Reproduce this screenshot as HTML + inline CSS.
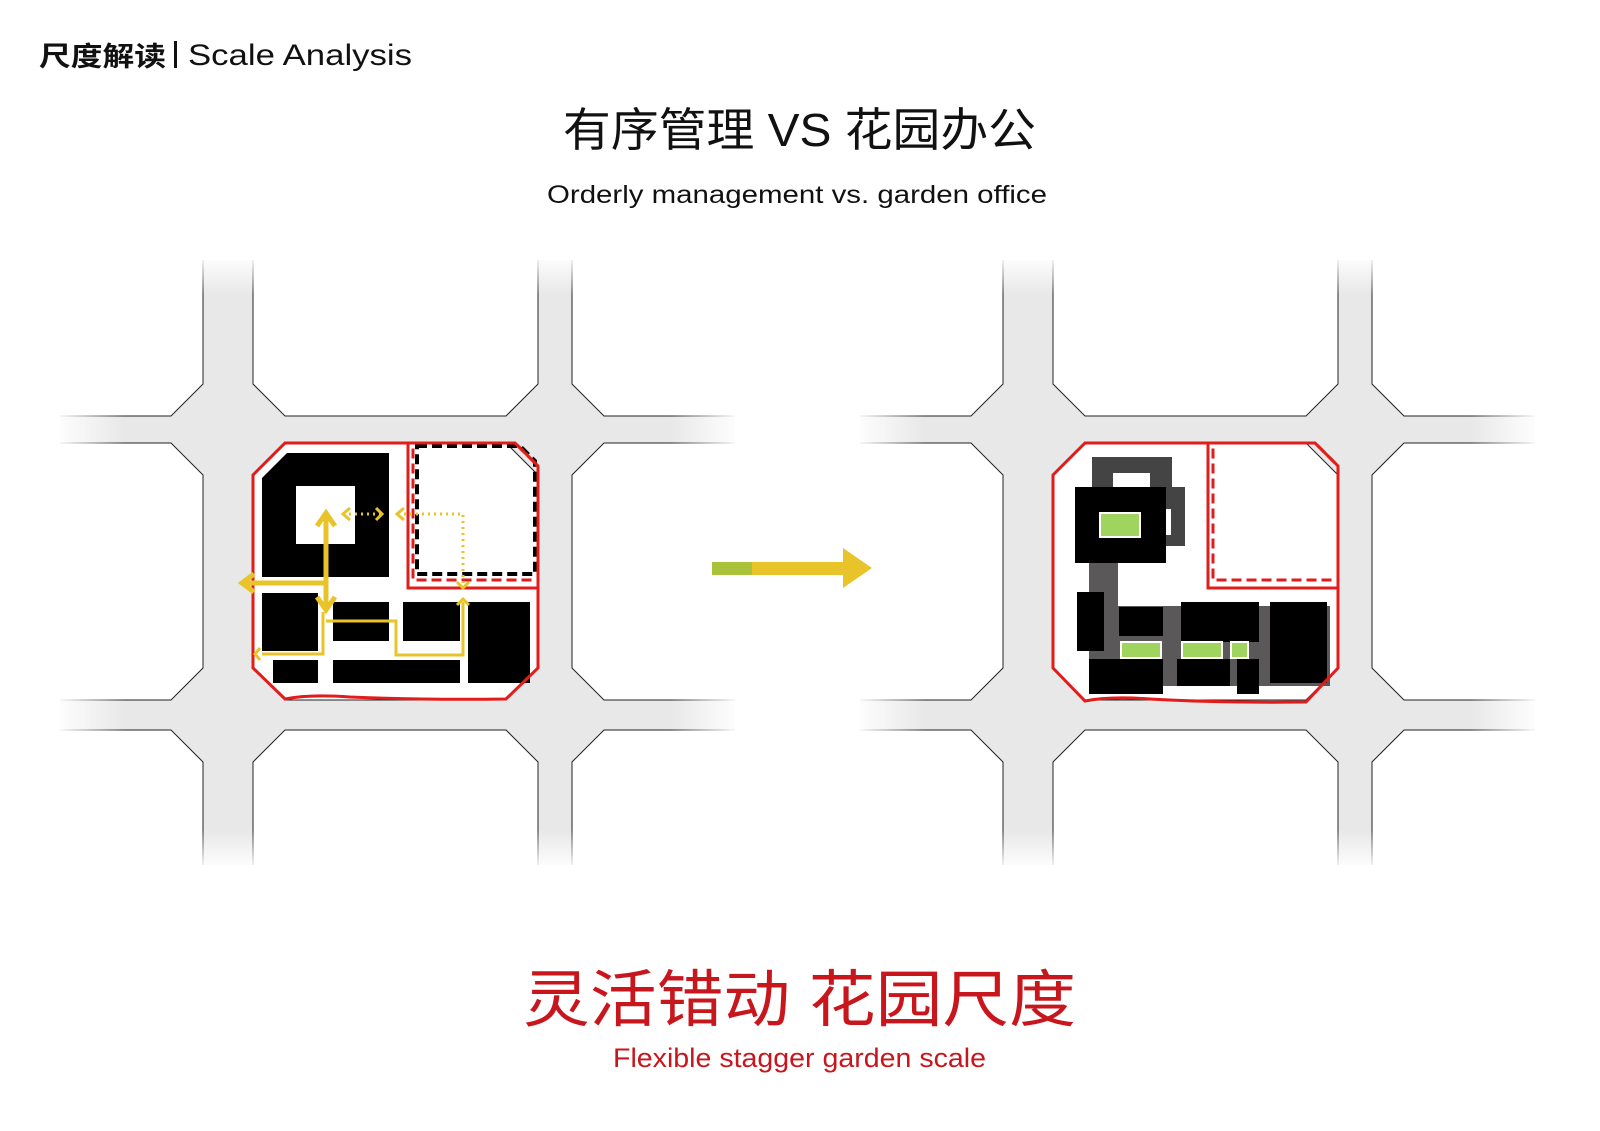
<!DOCTYPE html>
<html><head><meta charset="utf-8"><style>
html,body{margin:0;padding:0;background:#fff;}
svg{display:block;}
</style></head><body>
<svg width="1600" height="1131" viewBox="0 0 1600 1131" xmlns="http://www.w3.org/2000/svg">
<defs>
<linearGradient id="fl" x1="0" x2="1" y1="0" y2="0"><stop offset="0" stop-color="#fff" stop-opacity="1"/><stop offset="1" stop-color="#fff" stop-opacity="0"/></linearGradient>
<linearGradient id="fr" x1="1" x2="0" y1="0" y2="0"><stop offset="0" stop-color="#fff" stop-opacity="1"/><stop offset="1" stop-color="#fff" stop-opacity="0"/></linearGradient>
<linearGradient id="ft" x1="0" x2="0" y1="0" y2="1"><stop offset="0" stop-color="#fff" stop-opacity="1"/><stop offset="1" stop-color="#fff" stop-opacity="0"/></linearGradient>
<linearGradient id="fb" x1="0" x2="0" y1="1" y2="0"><stop offset="0" stop-color="#fff" stop-opacity="1"/><stop offset="1" stop-color="#fff" stop-opacity="0"/></linearGradient>
<clipPath id="cp"><rect x="60" y="260" width="675" height="605"/></clipPath>
<g id="grid">
<g clip-path="url(#cp)">
<rect x="40" y="250" width="720" height="620" fill="#e8e8e8"/>
<g fill="#fff" stroke="#222" stroke-width="1">
<polygon points="0,200 203,200 203,384 171,416 0,416"/>
<polygon points="253,200 538,200 538,384 506,416 285,416 253,384"/>
<polygon points="572,200 800,200 800,416 604,416 572,384"/>
<polygon points="0,443 171,443 203,475 203,668 171,700 0,700"/>
<polygon points="285,443 506,443 538,475 538,668 506,700 285,700 253,668 253,475"/>
<polygon points="604,443 800,443 800,700 604,700 572,668 572,475"/>
<polygon points="0,730 171,730 203,762 203,900 0,900"/>
<polygon points="285,730 506,730 538,762 538,900 253,900 253,762"/>
<polygon points="604,730 800,730 800,900 572,900 572,762"/>
</g>
</g>
<rect x="55" y="255" width="70" height="615" fill="url(#fl)"/>
<rect x="670" y="255" width="70" height="615" fill="url(#fr)"/>
<rect x="55" y="255" width="685" height="40" fill="url(#ft)"/>
<rect x="55" y="830" width="685" height="40" fill="url(#fb)"/>
</g>
</defs>

<!-- header -->
<text x="39" y="66" font-family="Liberation Sans, Noto Sans CJK SC, sans-serif" font-size="27" font-weight="bold" fill="#111" textLength="127" lengthAdjust="spacingAndGlyphs">尺度解读</text>
<rect x="174" y="41" width="3" height="27" fill="#111"/>
<text x="188" y="65" font-family="Liberation Sans, sans-serif" font-size="30" fill="#111" textLength="224" lengthAdjust="spacingAndGlyphs">Scale Analysis</text>

<text x="563" y="146" font-family="Liberation Sans, Noto Sans CJK SC, sans-serif" font-size="46" fill="#111" textLength="473" lengthAdjust="spacingAndGlyphs">有序管理 VS 花园办公</text>
<text x="547" y="203" font-family="Liberation Sans, sans-serif" font-size="25" fill="#111" textLength="500" lengthAdjust="spacingAndGlyphs">Orderly management vs. garden office</text>

<!-- left panel -->
<use href="#grid"/>
<g fill="#000">
<path d="M287,453 H389 V577 H262 V478 Z M296,486 V544 H355 V486 Z" fill-rule="evenodd"/>
<rect x="262" y="593" width="56" height="58"/>
<rect x="273" y="660" width="45" height="23"/>
<rect x="333" y="602" width="56" height="39"/>
<rect x="333" y="660" width="127" height="23"/>
<rect x="403" y="602" width="57" height="39"/>
<rect x="468" y="602" width="62" height="81"/>
</g>
<polygon points="417,446 520,446 535,461 535,574 417,574" fill="none" stroke="#000" stroke-width="4" stroke-dasharray="10,5"/>
<polygon points="413,443 515,443 538,466 538,580 413,580" fill="none" stroke="#e21b1b" stroke-width="3" stroke-dasharray="10,5"/>
<path d="M408,443 V588 H538" fill="none" stroke="#e21b1b" stroke-width="3"/>
<path d="M285,443 H515 L538,466 V668 L506,699 Q420,700 350,697 Q310,694 285,699 L253,668 V475 Z" fill="none" stroke="#e21b1b" stroke-width="3"/>
<g stroke="#e8c32a" fill="none">
<path d="M326,516 V608" stroke-width="5"/>
<path d="M326,583 H244" stroke-width="5"/>
<path d="M317,526 L326,513 L335,526 M317,597 L326,610 L335,597 M254,574 L242,583 L254,592" stroke-width="5"/>
<path d="M323,612 V654 H262 M260,648 L255,654 L260,660" stroke-width="3"/>
<path d="M326,621 H396 V655 H463 V602 M457,605 L463,599 L469,605" stroke-width="3"/>
<path d="M349,514 H380" stroke-width="3" stroke-dasharray="2,4"/>
<path d="M350,508 L343,514 L350,520 M376,508 L382,514 L376,520 M404,508 L397,514 L404,520" stroke-width="3"/>
<path d="M404,514 H463 V585" stroke-width="3" stroke-dasharray="2,4"/>
<path d="M457,582 L463,588 L469,582" stroke-width="3"/>
</g>

<!-- right panel -->
<use href="#grid" transform="translate(800,0)"/>
<g>
<rect x="1092" y="457" width="80" height="30" fill="#444"/>
<rect x="1113" y="473" width="37" height="14" fill="#fff"/>
<rect x="1165" y="487" width="20" height="59" fill="#444"/>
<rect x="1166" y="509" width="5" height="26" fill="#fff"/>
<rect x="1089" y="563" width="29" height="100" fill="#5a5858"/>
<rect x="1104" y="606" width="226" height="80" fill="#5a5858"/>
<rect x="1075" y="487" width="91" height="76" fill="#000"/>
<rect x="1100" y="513" width="40" height="24" fill="#9fd45f" stroke="#fff" stroke-width="2"/>
<g fill="#000">
<rect x="1077" y="592" width="27" height="59"/>
<rect x="1119" y="607" width="44" height="29"/>
<rect x="1181" y="602" width="78" height="40"/>
<rect x="1270" y="602" width="57" height="81"/>
<rect x="1089" y="659" width="74" height="35"/>
<rect x="1177" y="659" width="53" height="27"/>
<rect x="1237" y="659" width="22" height="35"/>
</g>
<g fill="#9fd45f" stroke="#fff" stroke-width="2">
<rect x="1121" y="642" width="40" height="16"/>
<rect x="1182" y="642" width="40" height="16"/>
<rect x="1231" y="642" width="17" height="16"/>
</g>
</g>
<polygon points="1213,443 1315,443 1338,466 1338,580 1213,580" fill="none" stroke="#e21b1b" stroke-width="3" stroke-dasharray="10,5"/>
<path d="M1208,443 V588 H1338" fill="none" stroke="#e21b1b" stroke-width="3"/>
<path d="M1085,443 H1315 L1338,466 V668 L1306,702 Q1220,703 1150,699 Q1110,696 1085,701 L1053,668 V475 Z" fill="none" stroke="#e21b1b" stroke-width="3"/>

<!-- middle arrow -->
<rect x="712" y="562" width="135" height="13" fill="#e8c32a"/>
<rect x="712" y="562" width="40" height="13" fill="#a9c23a"/>
<polygon points="843,548 872,568 843,588" fill="#e8c32a"/>

<!-- bottom titles -->
<text x="523" y="1021" font-family="Liberation Sans, Noto Sans CJK SC, sans-serif" font-size="62" fill="#c8161d" textLength="553" lengthAdjust="spacingAndGlyphs">灵活错动  花园尺度</text>
<text x="613" y="1067" font-family="Liberation Sans, sans-serif" font-size="27" fill="#c8161d" textLength="373" lengthAdjust="spacingAndGlyphs">Flexible stagger garden scale</text>
</svg>
</body></html>
